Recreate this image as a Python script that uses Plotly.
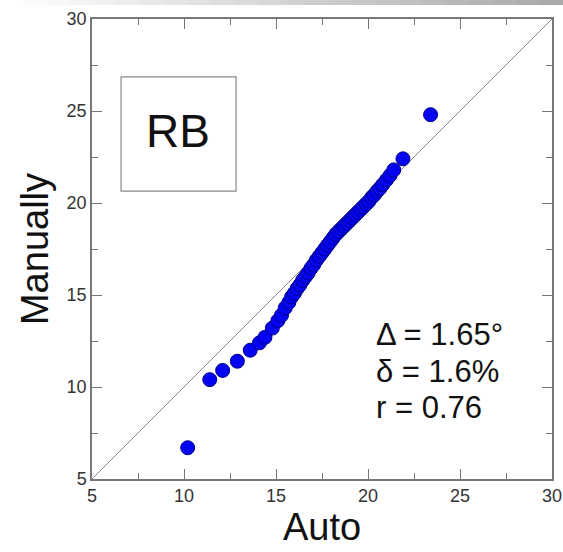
import plotly.graph_objects as go

auto = [10.2, 11.4, 12.1, 12.9, 13.6, 14.1, 14.4, 14.8, 15.1, 15.3, 15.5, 15.7, 15.85, 16.0,
        16.15, 16.3, 16.45, 16.6, 16.75, 16.9, 17.05, 17.2, 17.35, 17.5, 17.65, 17.8, 17.95,
        18.1, 18.25, 18.4, 18.55, 18.7, 18.85, 19.0, 19.15, 19.3, 19.45, 19.6, 19.75, 19.9,
        20.05, 20.2, 20.35, 20.5, 20.65, 20.8, 21.0, 21.2, 21.4, 21.9, 23.4]
manually = [6.7, 10.4, 10.9, 11.4, 12.0, 12.4, 12.7, 13.2, 13.6, 13.9, 14.3, 14.6, 14.9, 15.1,
            15.35, 15.55, 15.8, 16.0, 16.2, 16.45, 16.65, 16.9, 17.1, 17.3, 17.5, 17.7, 17.9,
            18.1, 18.3, 18.45, 18.6, 18.75, 18.9, 19.05, 19.2, 19.35, 19.5, 19.65, 19.8, 19.95,
            20.1, 20.3, 20.45, 20.65, 20.8, 21.0, 21.25, 21.5, 21.8, 22.4, 24.8]
axis_range = [5, 30]
tick_vals = [5, 10, 15, 20, 25, 30]
stats_lines = ["Δ = 1.65°", "δ = 1.6%", "r = 0.76"]
label = "RB"

FONT = "Liberation Sans, Arial, sans-serif"

fig = go.Figure()
fig.add_trace(go.Scatter(x=axis_range, y=axis_range, mode="lines",
                         line=dict(color="#8a8a8a", width=1), hoverinfo="skip"))
fig.add_trace(go.Scatter(x=auto, y=manually, mode="markers",
                         marker=dict(size=14, color="#0404f0",
                                     line=dict(color="#00008a", width=1))))

axis_common = dict(range=axis_range, tickvals=tick_vals, ticks="inside", ticklen=10,
                   tickcolor="#777", tickwidth=1.2, showline=True, linecolor="#777",
                   linewidth=1.5, mirror="ticks", showgrid=False, zeroline=False,
                   automargin=False,
                   tickfont=dict(family=FONT, size=18, color="#333"),
                   minor=dict(dtick=2.5, ticks="inside", ticklen=6, tickcolor="#777",
                              tickwidth=1.2, showgrid=False))

fig.update_xaxes(**axis_common, title=dict(text="Auto", font=dict(family=FONT, size=38, color="#111"),
                                           standoff=4))
fig.update_yaxes(**axis_common, title=dict(text="Manually", font=dict(family=FONT, size=38, color="#111"),
                                           standoff=6))

shapes = []
# top gradient strip
n = 24
for i in range(n):
    g = int(255 - (255 - 170) * (i / (n - 1)))
    shapes.append(dict(type="rect", xref="paper", yref="paper",
                       x0=-0.2 + i * (1.0239 + 0.2) / n, x1=-0.2 + (i + 1.05) * (1.0239 + 0.2) / n,
                       y0=1.0304, y1=1.0413, line=dict(width=0),
                       fillcolor=f"rgb({g},{g},{g})", layer="above"))
# RB box
shapes.append(dict(type="rect", xref="x", yref="y", x0=6.58, x1=12.83, y0=20.65, y1=26.85,
                   line=dict(color="#888", width=1.2), fillcolor="rgba(0,0,0,0)"))
fig.update_layout(shapes=shapes)

annotations = [dict(x=9.7, y=23.9, xref="x", yref="y", text=label, showarrow=False,
                    font=dict(family=FONT, size=46, color="#111"))]
ys = [12.83, 10.82, 8.91]
for t, yv in zip(stats_lines, ys):
    annotations.append(dict(x=20.35, y=yv, xref="x", yref="y", text=t, showarrow=False,
                            xanchor="left", font=dict(family=FONT, size=31, color="#111")))
fig.update_layout(annotations=annotations)

fig.update_layout(width=563, height=552, margin=dict(l=92, r=11, t=19, b=73),
                  paper_bgcolor="white", plot_bgcolor="white", showlegend=False)

fig.write_html("out.html",
               post_script="document.body.style.margin='0';document.body.style.overflow='hidden';")
